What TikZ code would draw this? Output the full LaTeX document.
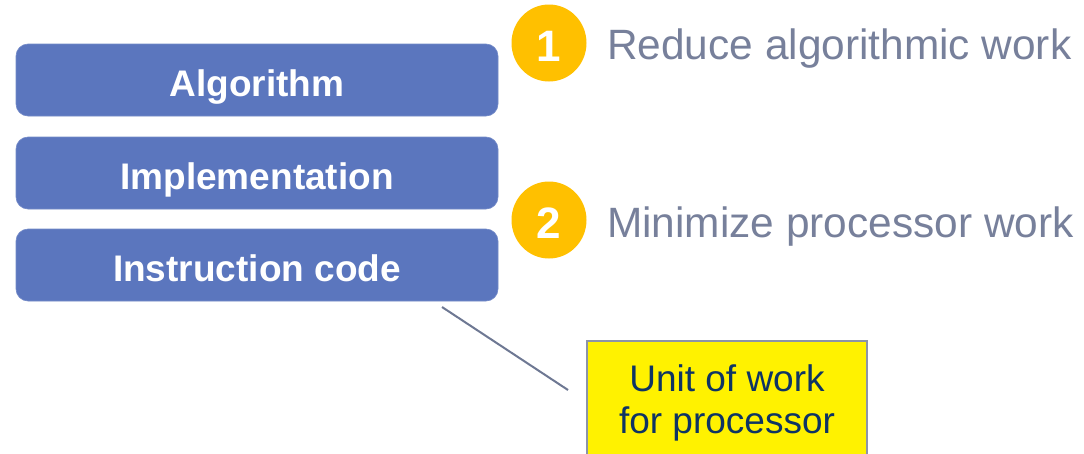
\documentclass[tikz,border=0pt]{standalone}
\usepackage{fontspec}
\setmainfont{Liberation Sans}
\usetikzlibrary{shapes.geometric}

\definecolor{layerblue}{RGB}{91,118,190}
\definecolor{badgegold}{RGB}{255,192,0}
\definecolor{goalgray}{RGB}{119,128,155}
\definecolor{notenavy}{RGB}{14,52,100}
\definecolor{noteedge}{RGB}{140,148,168}
\definecolor{leadgray}{RGB}{110,120,147}

\tikzset{
  layer/.style={fill=layerblue, draw=layerblue!85!white, line width=0.6pt,
    rounded corners=12pt, minimum width=482pt, minimum height=72pt,
    inner sep=0pt, text=white, text height=38pt, text depth=6pt,
    font=\fontsize{37}{44}\selectfont\bfseries},
  badge/.style={ellipse, fill=badgegold, minimum width=75pt, minimum height=77pt,
    inner sep=0pt, text=white, text height=37.5pt, text depth=0pt,
    font=\fontsize{44}{50}\selectfont\bfseries},
  goal/.style={anchor=base west, inner sep=0pt, text=goalgray,
    font=\fontsize{42.4}{50}\selectfont},
  note/.style={fill=yellow, draw=noteedge, line width=2pt, anchor=north west,
    minimum width=280pt, minimum height=124pt, inner sep=0pt, align=center,
    text=notenavy, font=\fontsize{37}{42}\selectfont},
  lead/.style={draw=leadgray, line width=2pt}
}

\begin{document}
\begin{tikzpicture}[x=1pt, y=-1pt]
  \clip (0,0) rectangle (1084,453);
  \fill[white] (0,0) rectangle (1084,453);

  % abstraction layers
  \node[layer] (alg)  at (257,80)  {Algorithm};
  \node[layer] (impl) at (257,173) {Implementation};
  \node[layer] (inst) at (257,265) {Instruction code};

  % numbered goals
  \node[badge] (b1) at (549,43)  {1};
  \node[badge] (b2) at (549,220) {2};
  \node[goal] (g1) at (607,59)  {Reduce algorithmic work};
  \node[goal] (g2) at (607,237) {Minimize processor work};

  % callout for the instruction layer
  \node[note] (unit) at (586,340) {Unit of work\\for processor};
  \coordinate (leadA) at (442,307);
  \coordinate (leadB) at (568,390);
  \draw[lead] (leadA) -- (leadB);
\end{tikzpicture}
\end{document}
